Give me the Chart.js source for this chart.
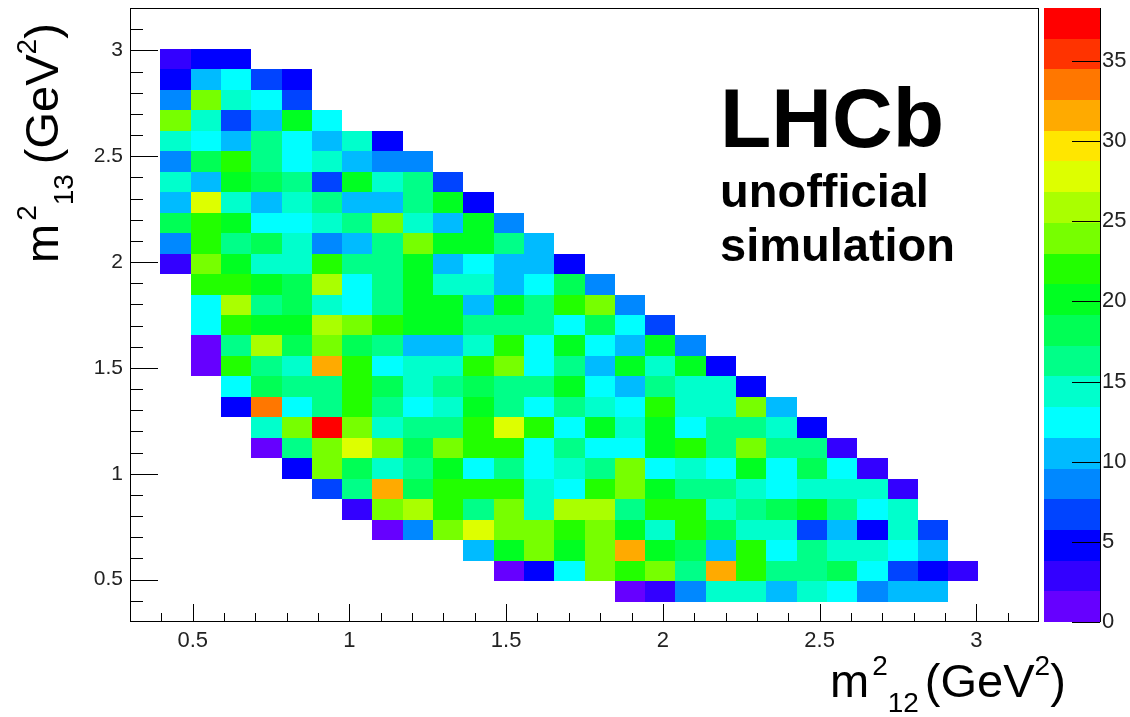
<!DOCTYPE html>
<html>
<head>
<meta charset="utf-8">
<title>Dalitz plot</title>
<script src="https://cdn.jsdelivr.net/npm/chart.js@4.4.1/dist/chart.umd.min.js"></script>
<style>
  html, body { margin: 0; padding: 0; background: #fff; }
  #wrap { width: 1130px; height: 717px; }
</style>
</head>
<body>
<div id="wrap"><canvas id="dalitz" width="1130" height="717"></canvas></div>
<script>
// Histogram binning, same for both axes: 30 bins from 0.3 to 3.2 GeV^2
const axisMin = 0.3;
const axisMax = 3.2;
const nBins = 30;
const zMax = 38.3;

const xTickValues = [0.5, 1, 1.5, 2, 2.5, 3];
const yTickValues = [0.5, 1, 1.5, 2, 2.5, 3];
const zTickValues = [0, 5, 10, 15, 20, 25, 30, 35];

// Bin contents, one array per m13^2 bin (row1 = lowest filled bin).
// Entry 0 of each array is m12^2 bin 1, zero means empty bin.
const row27 = [3, 5, 5];
const row26 = [5, 11, 12, 7, 5];
const row25 = [9, 24, 14, 12, 7];
const row24 = [24, 14, 7, 11, 20, 12];
const row23 = [14, 12, 11, 16, 12, 11, 14, 5];
const row22 = [9, 18, 22, 16, 12, 14, 11, 9, 9];
const row21 = [14, 11, 20, 18, 16, 7, 20, 14, 16, 7];
const row20 = [11, 28, 14, 11, 14, 16, 11, 11, 16, 20, 5];
const row19 = [18, 22, 20, 12, 12, 14, 16, 24, 14, 11, 20, 9];
const row18 = [9, 22, 16, 18, 14, 9, 11, 16, 24, 20, 20, 16, 11];
const row17 = [3, 24, 20, 14, 14, 22, 16, 16, 20, 11, 12, 11, 11, 5];
const row16 = [0, 22, 22, 20, 18, 26, 12, 16, 20, 14, 14, 11, 12, 18, 9];
const row15 = [0, 12, 26, 16, 18, 14, 12, 16, 20, 20, 11, 20, 16, 22, 24, 9];
const row14 = [0, 12, 22, 20, 20, 26, 24, 22, 20, 20, 16, 16, 16, 12, 18, 12, 7];
const row13 = [0, 1, 16, 26, 18, 24, 18, 16, 11, 11, 14, 22, 12, 20, 12, 11, 20, 9];
const row12 = [0, 1, 22, 16, 14, 32, 22, 12, 14, 14, 22, 24, 12, 16, 11, 20, 14, 20, 5];
const row11 = [0, 0, 12, 18, 16, 16, 22, 18, 14, 16, 18, 16, 16, 20, 12, 11, 16, 14, 14, 5];
const row10 = [0, 0, 5, 34, 12, 16, 22, 16, 12, 14, 20, 16, 12, 16, 14, 12, 22, 14, 14, 24, 11];
const row9  = [0, 0, 0, 14, 24, 38, 24, 14, 16, 16, 22, 28, 22, 12, 20, 14, 20, 12, 16, 16, 14, 5];
const row8  = [0, 0, 0, 1, 16, 24, 28, 24, 18, 24, 22, 22, 12, 16, 12, 12, 20, 22, 16, 24, 16, 16, 3];
const row7  = [0, 0, 0, 0, 5, 24, 18, 14, 16, 20, 12, 16, 12, 14, 16, 24, 12, 14, 12, 20, 12, 18, 12, 3];
const row6  = [0, 0, 0, 0, 0, 7, 16, 32, 18, 22, 22, 22, 14, 12, 22, 24, 20, 16, 16, 14, 12, 14, 14, 14, 3];
const row5  = [0, 0, 0, 0, 0, 0, 3, 24, 26, 22, 16, 24, 14, 26, 26, 16, 22, 22, 14, 16, 18, 20, 16, 12, 14];
const row4  = [0, 0, 0, 0, 0, 0, 0, 1, 9, 24, 28, 24, 24, 22, 24, 20, 14, 22, 18, 14, 14, 7, 11, 5, 14, 7];
const row3  = [0, 0, 0, 0, 0, 0, 0, 0, 0, 0, 11, 20, 24, 20, 24, 32, 20, 18, 11, 22, 12, 16, 14, 14, 12, 11];
const row2  = [0, 0, 0, 0, 0, 0, 0, 0, 0, 0, 0, 1, 5, 12, 24, 22, 24, 16, 32, 22, 16, 16, 18, 12, 7, 5, 3];
const row1  = [0, 0, 0, 0, 0, 0, 0, 0, 0, 0, 0, 0, 0, 0, 0, 1, 3, 9, 14, 14, 11, 14, 12, 9, 11, 11];

const rows = [row1, row2, row3, row4, row5, row6, row7, row8, row9, row10, row11, row12, row13, row14,
              row15, row16, row17, row18, row19, row20, row21, row22, row23, row24, row25, row26, row27];

// ROOT-like rainbow palette, 20 contour levels from 0 to zMax
const palette = ['#6600ff', '#3300ff', '#0000ff', '#0044ff', '#0088ff', '#00bbff', '#00ffff',
                 '#00ffcc', '#00ff88', '#00ff55', '#00ff22', '#22ff00', '#77ff00', '#aaff00',
                 '#ddff00', '#ffe600', '#ffaa00', '#ff7700', '#ff3300', '#ff0000'];

const fontFamily = '"Liberation Sans", Arial, sans-serif';

function colourFor(value)
{
    const level = Math.min(palette.length - 1, Math.floor(value / (zMax / palette.length)));
    return palette[level];
}

// Build the list of filled cells from the row arrays
const binWidth = (axisMax - axisMin) / nBins;
const cells = [];
rows.forEach((row, r) => {
    row.forEach((count, c) => {
        if (count > 0)
        {
            cells.push({ xBin: c + 1, yBin: r + 1, count: count });
        }
    });
});

// Draw text made of pieces with different sizes / offsets (super- and subscripts)
function drawPieces(ctx, pieces, x, y)
{
    let cx = x;
    pieces.forEach(p => {
        ctx.font = (p.bold ? 'bold ' : '') + p.size + 'px ' + fontFamily;
        cx += p.dx || 0;
        ctx.fillText(p.text, cx, y + (p.dy || 0));
        cx += ctx.measureText(p.text).width;
    });
}

const heatmapPlugin = {
    id: 'heatmap',
    beforeDatasetsDraw(chart)
    {
        const ctx = chart.ctx;
        const xs = chart.scales.x;
        const ys = chart.scales.y;
        ctx.save();
        cells.forEach(cell => {
            const x0 = Math.round(xs.getPixelForValue(axisMin + cell.xBin * binWidth));
            const x1 = Math.round(xs.getPixelForValue(axisMin + (cell.xBin + 1) * binWidth));
            const y0 = Math.round(ys.getPixelForValue(axisMin + (cell.yBin + 1) * binWidth));
            const y1 = Math.round(ys.getPixelForValue(axisMin + cell.yBin * binWidth));
            ctx.fillStyle = colourFor(cell.count);
            ctx.fillRect(x0, y0, x1 - x0, y1 - y0);
        });
        ctx.restore();
    },
    afterDraw(chart)
    {
        const ctx = chart.ctx;
        const area = chart.chartArea;
        const xs = chart.scales.x;
        const ys = chart.scales.y;
        const zs = chart.scales.z;
        ctx.save();

        // frame
        ctx.strokeStyle = '#000';
        ctx.lineWidth = 1;
        ctx.strokeRect(Math.round(area.left) + 0.5, Math.round(area.top) + 0.5,
                       Math.round(area.right - area.left) - 1, Math.round(area.bottom - area.top) - 1);

        // inward tick marks, major every 0.5 and minor every 0.1
        ctx.beginPath();
        for (let i = 4; i <= 31; i++)
        {
            const v = i / 10;
            const major = (i % 5 === 0);
            const px = Math.round(xs.getPixelForValue(v)) + 0.5;
            ctx.moveTo(px, area.bottom);
            ctx.lineTo(px, area.bottom - (major ? 18 : 9));
            const py = Math.round(ys.getPixelForValue(v)) + 0.5;
            ctx.moveTo(area.left, py);
            ctx.lineTo(area.left + (major ? 28 : 13), py);
        }
        ctx.stroke();

        // colour bar
        const barLeft = 1044;
        const barRight = 1100;
        for (let i = 0; i < palette.length; i++)
        {
            const yTop = Math.round(zs.getPixelForValue((i + 1) * zMax / palette.length));
            const yBot = Math.round(zs.getPixelForValue(i * zMax / palette.length));
            ctx.fillStyle = palette[i];
            ctx.fillRect(barLeft, yTop, barRight - barLeft, yBot - yTop);
        }
        ctx.beginPath();
        ctx.moveTo(barRight + 0.5, zs.getPixelForValue(zMax));
        ctx.lineTo(barRight + 0.5, zs.getPixelForValue(0));
        zTickValues.forEach(v => {
            const py = Math.round(zs.getPixelForValue(v)) + 0.5;
            ctx.moveTo(barRight - 28, py);
            ctx.lineTo(barRight, py);
        });
        ctx.stroke();

        // axis titles
        ctx.fillStyle = '#000';
        ctx.textBaseline = 'alphabetic';
        ctx.textAlign = 'left';
        drawPieces(ctx, [
            { text: 'm', size: 47 },
            { text: '2', size: 28, dy: -22, dx: 3 },
            { text: '12', size: 28, dy: 15 },
            { text: '(GeV', size: 47, dx: 6 },
            { text: '2', size: 28, dy: -22 },
            { text: ')', size: 47 }
        ], 830, 697);

        ctx.save();
        ctx.translate(58, 263);
        ctx.rotate(-Math.PI / 2);
        drawPieces(ctx, [
            { text: 'm', size: 47 },
            { text: '2', size: 28, dy: -22, dx: 3 },
            { text: '13', size: 28, dy: 15 },
            { text: '(GeV', size: 47, dx: 10 },
            { text: '2', size: 28, dy: -22 },
            { text: ')', size: 47 }
        ], 0, 0);
        ctx.restore();

        // experiment label
        drawPieces(ctx, [{ text: 'LHCb', size: 84, bold: true }], 720, 147);
        drawPieces(ctx, [{ text: 'unofficial', size: 47, bold: true }], 720, 207);
        drawPieces(ctx, [{ text: 'simulation', size: 47, bold: true }], 720, 261);

        ctx.restore();
    }
};

new Chart(document.getElementById('dalitz'),
{
    type: 'scatter',
    data: { datasets: [{ data: [] }] },
    plugins: [heatmapPlugin],
    options:
    {
        responsive: false,
        animation: false,
        devicePixelRatio: 1,
        layout: { padding: { left: 0, right: 0, top: 8, bottom: 0 } },
        plugins: { legend: { display: false }, tooltip: { enabled: false } },
        scales:
        {
            x:
            {
                type: 'linear', min: axisMin, max: axisMax,
                grid: { display: false, drawTicks: false }, border: { display: false },
                afterBuildTicks: s => { s.ticks = xTickValues.map(v => ({ value: v })); },
                afterFit: s => { s.height = 95; s.paddingLeft = 0; s.paddingRight = 0; },
                ticks: { font: { family: fontFamily, size: 22 }, color: '#222', padding: 6,
                         maxRotation: 0, autoSkip: false, callback: v => String(v) }
            },
            y:
            {
                type: 'linear', min: axisMin, max: axisMax,
                grid: { display: false, drawTicks: false }, border: { display: false },
                afterBuildTicks: s => { s.ticks = yTickValues.map(v => ({ value: v })); },
                afterFit: s => { s.width = 130; s.paddingTop = 0; s.paddingBottom = 0; },
                ticks: { font: { family: fontFamily, size: 21 }, color: '#222', padding: 7,
                         autoSkip: false, callback: v => String(v) }
            },
            z:
            {
                type: 'linear', position: 'right', min: 0, max: zMax,
                grid: { display: false, drawTicks: false }, border: { display: false },
                afterBuildTicks: s => { s.ticks = zTickValues.map(v => ({ value: v })); },
                afterFit: s => { s.width = 91; s.paddingTop = 0; s.paddingBottom = 0; },
                ticks: { font: { family: fontFamily, size: 22 }, color: '#222', padding: 63,
                         autoSkip: false, callback: v => String(v) }
            }
        }
    }
});
</script>
</body>
</html>
